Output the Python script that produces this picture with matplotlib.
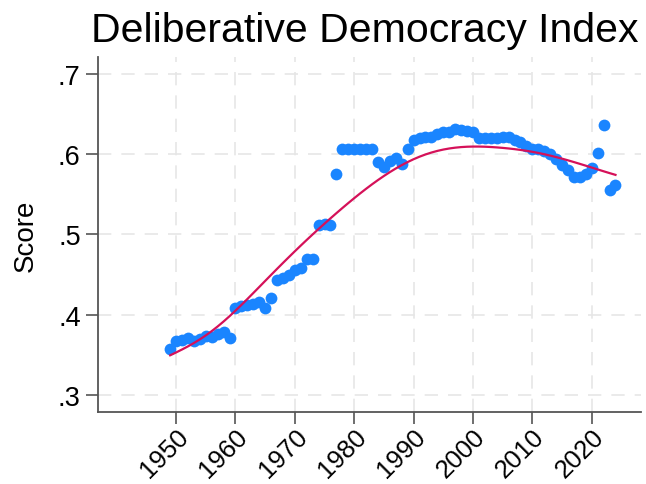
import numpy as np
import matplotlib
matplotlib.use("Agg")
import matplotlib.pyplot as plt
import matplotlib.transforms as mtransforms

plt.rcParams["font.family"] = ["Liberation Sans", "DejaVu Sans"]

years = np.arange(1949, 2025)
scores = [
    0.357, 0.367, 0.369, 0.371, 0.367, 0.370, 0.373, 0.372, 0.376, 0.378,
    0.371, 0.409, 0.411, 0.412, 0.414, 0.416, 0.409, 0.421, 0.443, 0.446,
    0.450, 0.456, 0.458, 0.469, 0.469, 0.512, 0.513, 0.512, 0.575, 0.606,
    0.606, 0.606, 0.607, 0.607, 0.607, 0.590, 0.584, 0.592, 0.595, 0.588,
    0.606, 0.618, 0.620, 0.621, 0.622, 0.625, 0.627, 0.628, 0.631, 0.630,
    0.629, 0.627, 0.620, 0.620, 0.620, 0.620, 0.621, 0.621, 0.618, 0.615,
    0.610, 0.606, 0.606, 0.604, 0.600, 0.594, 0.587, 0.580, 0.572, 0.572,
    0.575, 0.583, 0.601, 0.636, 0.555, 0.562,
]
xticks = np.arange(1950, 2030, 10)
yticks = [0.3, 0.4, 0.5, 0.6, 0.7]
ylabels = [".3", ".4", ".5", ".6", ".7"]

scores = np.array(scores)


def lowess(x, y, bwidth=0.8):
    # Stata-style lowess: centred subsets of bwidth*N points, tricube weights,
    # local linear fit, smaller uncentred subsets at the ends
    n = len(x)
    k = int(np.floor((n * bwidth - 0.5) / 2))
    out = np.empty(n)
    for i in range(n):
        lo, hi = max(0, i - k), min(n - 1, i + k)
        xs, ys = x[lo:hi + 1], y[lo:hi + 1]
        delta = 1.0001 * max(x[hi] - x[i], x[i] - x[lo])
        w = (1 - (np.abs(xs - x[i]) / delta) ** 3) ** 3
        xm = np.sum(w * xs) / np.sum(w)
        ym = np.sum(w * ys) / np.sum(w)
        b = np.sum(w * (xs - xm) * (ys - ym)) / np.sum(w * (xs - xm) ** 2)
        out[i] = ym + b * (x[i] - xm)
    return out


fit = lowess(years.astype(float), scores)

fig = plt.figure(figsize=(6.46, 4.85), dpi=100)
ax = fig.add_axes([0.1517, 0.1485, 0.8406, 0.7319])

ax.scatter(years, scores, s=72, color="#1A85FF", zorder=3, linewidths=0)
ax.plot(years, fit, color="#D51159", lw=1.6, zorder=4)

ax.set_xlim(1936.85, 2028.3)
ax.set_ylim(0.279, 0.721)
ax.set_xticks(xticks)
ax.set_xticklabels([str(t) for t in xticks], rotation=45, ha="right",
                   rotation_mode="anchor", fontsize=18.5)
ax.tick_params(axis="x", pad=0)
# nudge rotated year labels so their ends sit just right of the ticks
shift = mtransforms.ScaledTranslation(6 / 100, -7 / 100, fig.dpi_scale_trans)
for lab in ax.get_xticklabels():
    lab.set_transform(lab.get_transform() + shift)
ax.set_yticks(yticks)
ax.set_yticklabels(ylabels, fontsize=19.5)
ax.set_ylabel("Score", fontsize=20, labelpad=14)

ax.grid(True, color="#e6e6e6", lw=1.2, linestyle=(0, (8, 6)))
ax.set_axisbelow(True)
for s in ["top", "right"]:
    ax.spines[s].set_visible(False)
for s in ["left", "bottom"]:
    ax.spines[s].set_color("#555555")
    ax.spines[s].set_linewidth(1.3)
ax.tick_params(length=8.5, width=1.2, color="#555555")
ax.tick_params(axis="y", pad=4)

fig.text(365 / 646, 1 - 31 / 485, "Deliberative Democracy Index",
         ha="center", va="center", fontsize=29.5)

fig.savefig("out.png", dpi=100)
